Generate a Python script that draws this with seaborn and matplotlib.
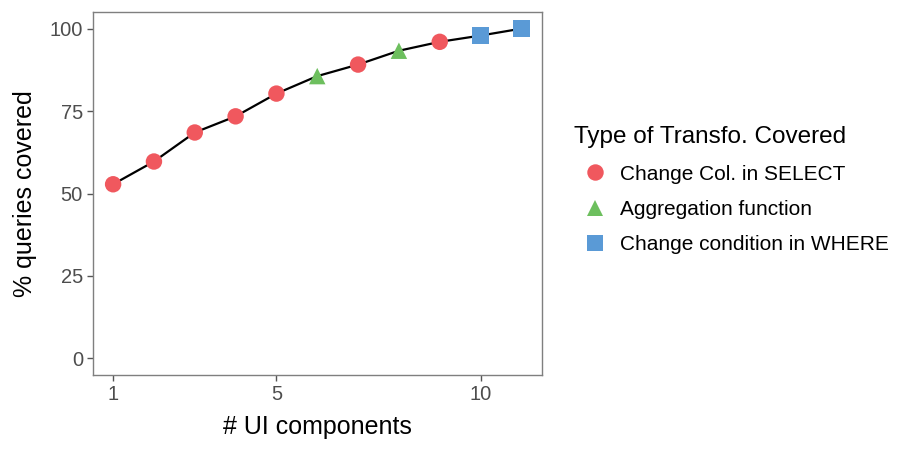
import matplotlib
matplotlib.use("Agg")
import matplotlib.pyplot as plt
import seaborn as sns
import pandas as pd

# -----------------------------
# Data
# -----------------------------
n_components = [1, 2, 3, 4, 5, 6, 7, 8, 9, 10, 11]
pct_covered = [52.8, 59.7, 68.5, 73.4, 80.3, 85.6, 89.1, 93.3, 96.0, 97.9, 100.0]
transfo_type = [
    "Change Col. in SELECT", "Change Col. in SELECT", "Change Col. in SELECT",
    "Change Col. in SELECT", "Change Col. in SELECT", "Aggregation function",
    "Change Col. in SELECT", "Aggregation function", "Change Col. in SELECT",
    "Change condition in WHERE", "Change condition in WHERE",
]
type_order = ["Change Col. in SELECT", "Aggregation function", "Change condition in WHERE"]
type_colors = ["#F0585E", "#6DBF5E", "#5A9AD6"]
type_markers = ["o", "^", "s"]

df = pd.DataFrame({"n": n_components, "pct": pct_covered, "type": transfo_type})

sns.set_style("white")
plt.rcParams['font.family'] = ['Liberation Sans', 'DejaVu Sans']
plt.rcParams['text.color'] = 'black'

fig = plt.figure(figsize=(9, 4.5), dpi=100)
ax = fig.add_axes([0.103, 0.167, 0.499, 0.806])

# black connecting line, then coloured markers by transformation type
sns.lineplot(data=df, x="n", y="pct", color="black", linewidth=1.6, ax=ax, zorder=1)
sns.scatterplot(data=df, x="n", y="pct", hue="type", style="type",
                hue_order=type_order, style_order=type_order,
                palette=dict(zip(type_order, type_colors)),
                markers=dict(zip(type_order, type_markers)),
                s=140, linewidth=0, ax=ax, zorder=2)

ax.set_xlim(0.5, 11.5)
ax.set_ylim(-5, 105)
ax.set_xticks([1, 5, 10])
ax.set_yticks([0, 25, 50, 75, 100])
ax.tick_params(axis="both", length=4, width=1, color="#555555", labelsize=14.5,
               labelcolor="#4D4D4D", direction="out", bottom=True, left=True, pad=3)
for sp in ax.spines.values():
    sp.set_color("#7F7F7F")
    sp.set_linewidth(1)
ax.set_xlabel("# UI components", fontsize=18, color="black", labelpad=8)
ax.set_ylabel("% queries covered", fontsize=18, color="black", labelpad=9)

handles, labels = ax.get_legend_handles_labels()
leg = ax.legend(handles, labels, title="Type of Transfo. Covered",
                loc="upper left", bbox_to_anchor=(1.054, 0.708), frameon=False,
                fontsize=15, title_fontsize=17.5, handletextpad=0.2,
                labelspacing=0.78, markerscale=1.0, borderaxespad=0)
leg._legend_box.align = "left"
leg.get_title().set_color("black")
for t in leg.get_texts():
    t.set_color("black")

fig.savefig("out.png", dpi=100)
